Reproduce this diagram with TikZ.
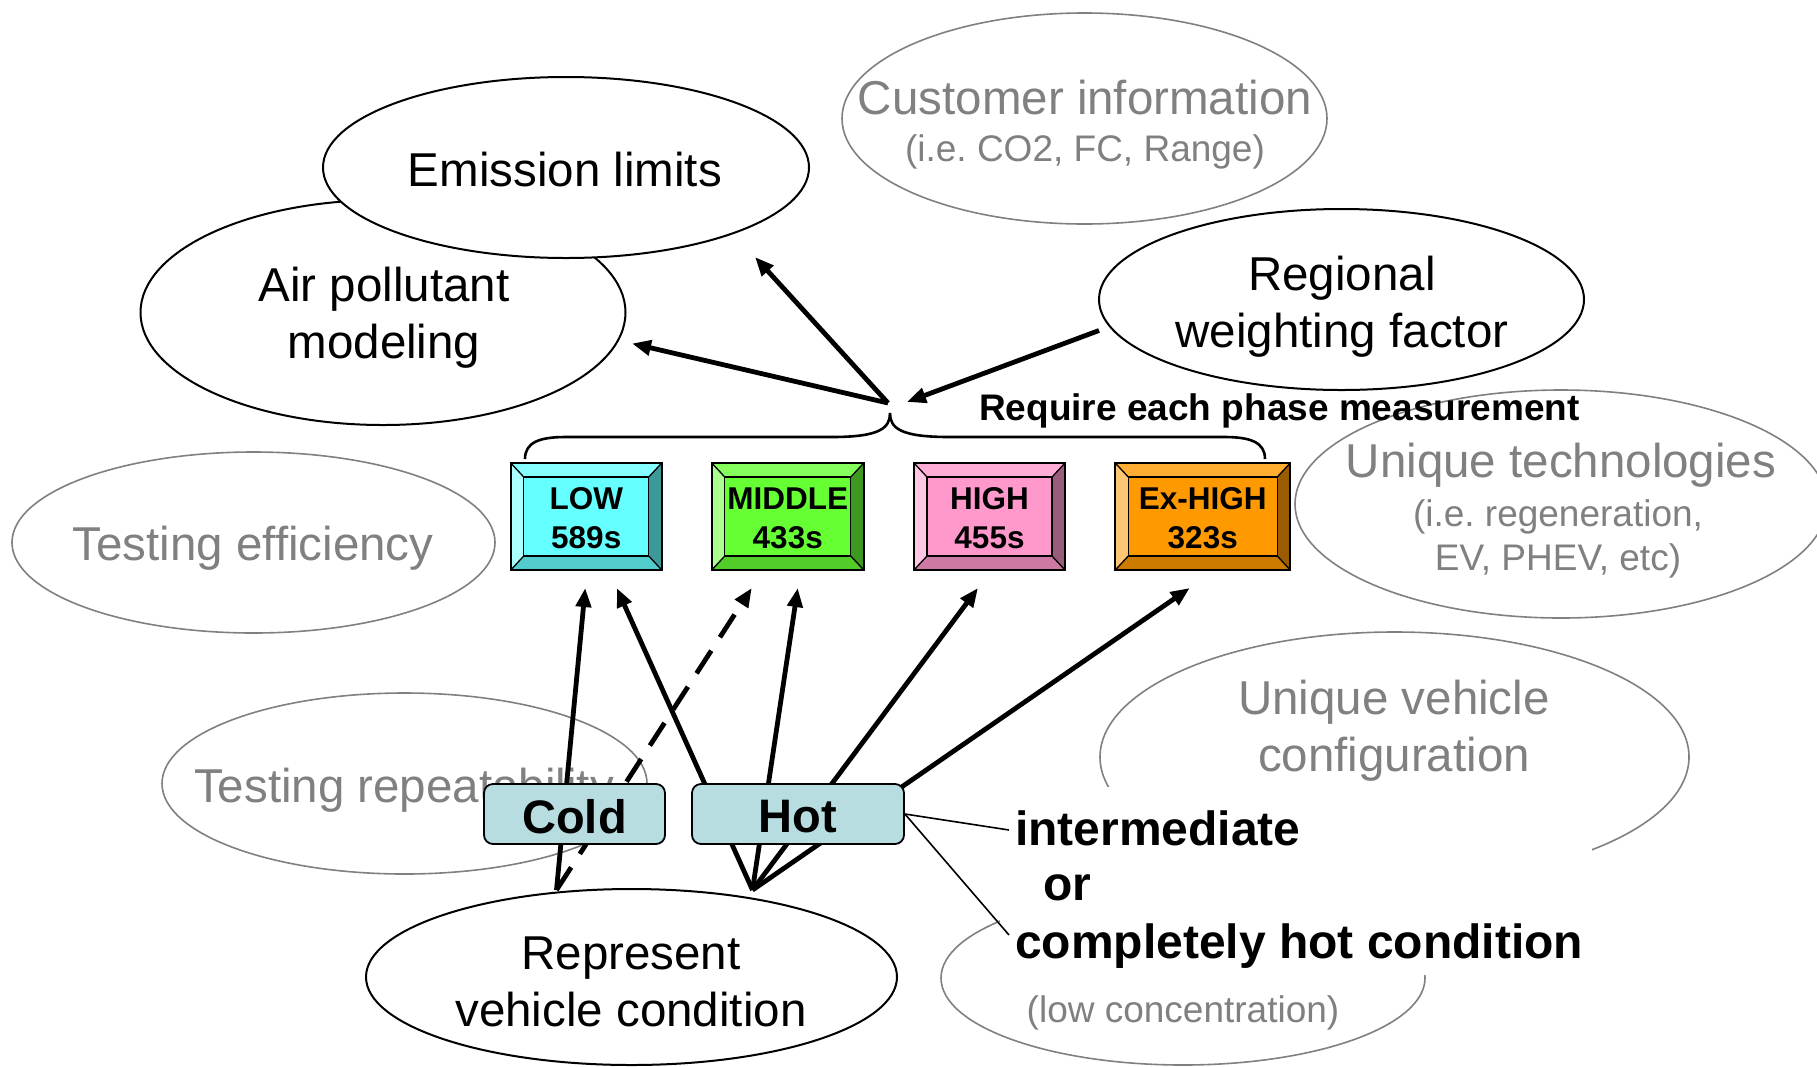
\documentclass[tikz,border=0pt]{standalone}
\usepackage{fontspec}
\setmainfont{Liberation Sans}
\usetikzlibrary{shapes.geometric,arrows.meta,calc}
\frenchspacing

\definecolor{softgrey}{RGB}{128,128,128}
\definecolor{condfill}{RGB}{183,221,225}
\definecolor{lowcol}{HTML}{66FFFF}
\definecolor{midcol}{HTML}{66FF33}
\definecolor{highcol}{HTML}{FF99CC}
\definecolor{exhcol}{HTML}{FF9900}

% bevelled phase box: name, x, y, width, colour, text
\newcommand\drawphase[6]{%
  \node[phasebox, minimum width=#4pt, fill=#5] (#1) at (#2,#3) {};
  \fill[#5!80!white] (#1.north west) -- (#1.north east) -- ($(#1.north east)+(-13,14)$) -- ($(#1.north west)+(13,14)$) -- cycle;
  \fill[#5!55!white] (#1.north west) -- ($(#1.north west)+(13,14)$) -- ($(#1.south west)+(13,-14)$) -- (#1.south west) -- cycle;
  \fill[#5!60!black] (#1.north east) -- (#1.south east) -- ($(#1.south east)+(-13,-14)$) -- ($(#1.north east)+(-13,14)$) -- cycle;
  \fill[#5!80!black] (#1.south west) -- (#1.south east) -- ($(#1.south east)+(-13,-14)$) -- ($(#1.south west)+(13,-14)$) -- cycle;
  \draw[line width=1.3pt] ($(#1.north west)+(13,14)$) rectangle ($(#1.south east)+(-13,-14)$);
  \draw[line width=1.3pt] (#1.north west) -- ($(#1.north west)+(13,14)$)
                          (#1.north east) -- ($(#1.north east)+(-13,14)$)
                          (#1.south west) -- ($(#1.south west)+(13,-14)$)
                          (#1.south east) -- ($(#1.south east)+(-13,-14)$);
  \draw[line width=2.4pt] (#1.north west) rectangle (#1.south east);
  \node[phasetext] (#1-t) at ($(#1.center)+(0,2)$) {#6};
}

\begin{document}
\begin{tikzpicture}[x=1pt, y=-1pt,
  blackoval/.style={ellipse, draw, line width=2pt, fill=white, inner sep=0pt, outer sep=0pt},
  greyoval/.style={blackoval, draw=softgrey, line width=1.6pt},
  bigtext/.style={font=\fontsize{47.5}{57}\selectfont, align=center, inner sep=0pt},
  smalltext/.style={font=\fontsize{37}{44}\selectfont, align=center, inner sep=0pt, text=softgrey},
  phasebox/.style={rectangle, minimum height=107pt, inner sep=0pt, outer sep=0pt},
  phasetext/.style={font=\bfseries\fontsize{31.5}{39}\selectfont, align=center, inner sep=0pt},
  condbox/.style={draw, line width=1.8pt, fill=condfill, rounded corners=9pt, inner sep=0pt,
                  minimum height=60pt, font=\bfseries\fontsize{47}{50}\selectfont},
  condtext/.style={font=\bfseries\fontsize{48}{58}\selectfont, anchor=west, inner sep=0pt},
  arrowline/.style={line width=4.8pt, -{Triangle[length=19pt,width=15pt]}},
  thinlink/.style={line width=1.6pt},
]
\useasboundingbox (0,0) rectangle (1817,1066);

% ---- grey (secondary) aspects ----
\node[greyoval, minimum width=485pt, minimum height=211pt] (cust) at (1084.5,118.5) {};
\node[bigtext, text=softgrey] (cust-t) at (1085,98) {Customer information};
\node[smalltext] (cust-s) at (1085,152) {(i.e. CO2, FC, Range)};

\node[greyoval, minimum width=532pt, minimum height=228pt] (utech) at (1561,504) {};
\node[bigtext, text=softgrey] (utech-t) at (1561,465) {Unique technologies};
\node[smalltext] (utech-s) at (1558,539) {(i.e. regeneration,\\EV, PHEV, etc)};

\node[greyoval, minimum width=483pt, minimum height=181pt] (eff) at (253.5,542.5) {};
\node[bigtext, text=softgrey] (eff-t) at (253,548) {Testing efficiency};

\node[greyoval, minimum width=485pt, minimum height=181pt] (rpt) at (404.5,783.5) {};
\node[bigtext, text=softgrey] (rpt-t) at (404,790) {Testing repeatability};

\node[greyoval, minimum width=589pt, minimum height=250pt] (uveh) at (1394.5,757) {};
\node[bigtext, text=softgrey] (uveh-t) at (1394,731) {Unique vehicle\\configuration};

\node[greyoval, minimum width=484pt, minimum height=174pt] (lowc) at (1183,978) {};
\node[smalltext] (lowc-t) at (1183,1013) {(low concentration)};

% ---- black (primary) aspects ----
\node[blackoval, minimum width=485pt, minimum height=225pt] (air) at (383,312.5) {};
\node[bigtext] (air-t) at (384,318) {Air pollutant\\modeling};

\node[blackoval, minimum width=486pt, minimum height=181pt] (emis) at (566,167.5) {};
\node[bigtext] (emis-t) at (565,170) {Emission limits};

\node[blackoval, minimum width=485pt, minimum height=181pt] (reg) at (1341.5,299.5) {};
\node[bigtext] (reg-t) at (1342,307) {Regional\\weighting factor};

\node[blackoval, minimum width=531pt, minimum height=176pt] (rep) at (631.5,977) {};
\node[bigtext] (rep-t) at (631,982) {Represent\\vehicle condition};

% ---- brace over the four phases ----
\draw[line width=2.6pt] (525,459) .. controls (525,442) and (540,437) .. (566,437) -- (832,437)
  .. controls (880,437) and (890,428) .. (890,413) coordinate (btip)
  .. controls (890,428) and (900,437) .. (949,437) -- (1224,437)
  .. controls (1250,437) and (1265,442) .. (1265,459);
\node[font=\bfseries\fontsize{37}{44}\selectfont, anchor=west, inner sep=0pt] (req) at (979,411)
  {Require each phase measurement};

% ---- phases ----
\drawphase{low}{586.25}{516.5}{151}{lowcol}{LOW\\589s}
\drawphase{mid}{787.75}{516.5}{152}{midcol}{MIDDLE\\433s}
\drawphase{high}{989.5}{516.5}{151}{highcol}{HIGH\\455s}
\drawphase{exh}{1202.75}{516.5}{175}{exhcol}{Ex-HIGH\\323s}

% ---- upper arrows ----
\coordinate (hub) at ($(btip)+(-2,-10)$);
\draw[arrowline] (hub) -- ($(air.center)+(249,31)$);
\draw[arrowline] (hub) -- ($(emis.center)+(189,89.5)$);
\draw[arrowline] ($(reg.west)+(0,31)$) -- ($(btip)+(17,-11)$);

% ---- lower arrows from the vehicle condition ----
\coordinate (rc) at ($(rep.north)+(-75,1)$);
\coordinate (rh) at ($(rep.north)+(121,1)$);
\draw[arrowline] (rc) -- ($(low.south)+(-1,18)$);
\draw[arrowline, dash pattern=on 27pt off 16pt] (rc) -- ($(mid.south)+(-36,18)$);
\draw[arrowline] (rh) -- ($(low.south)+(30.5,18)$);
\draw[arrowline] (rh) -- ($(mid.south)+(10,18)$);
\draw[arrowline] (rh) -- ($(high.south)+(-11.5,18)$);
\draw[arrowline] (rh) -- ($(exh.south)+(-13,18)$);

\node[condbox, minimum width=181pt] (cold) at (574.5,814) {};
\node[font=\bfseries\fontsize{47}{50}\selectfont, inner sep=0pt] (cold-t) at ($(cold.center)+(0,3)$) {Cold};
\node[condbox, minimum width=212pt] (hot) at (798,814) {};
\node[font=\bfseries\fontsize{47}{50}\selectfont, inner sep=0pt] (hot-t) at ($(hot.center)+(0,3)$) {Hot};

% ---- hot condition note ----
\fill[white] (1000,787) rectangle (1592,975);
\node[condtext] (cond1) at (1015,828) {intermediate};
\node[condtext] (cond2) at (1043,888) {or};
\node[condtext] (cond3) at (1015,946) {completely hot condition};
\draw[thinlink] (hot.east) -- ($(cond1.west)+(-6,2)$);
\draw[thinlink] (hot.east) -- ($(cond3.west)+(-6,-11)$);
\end{tikzpicture}
\end{document}
